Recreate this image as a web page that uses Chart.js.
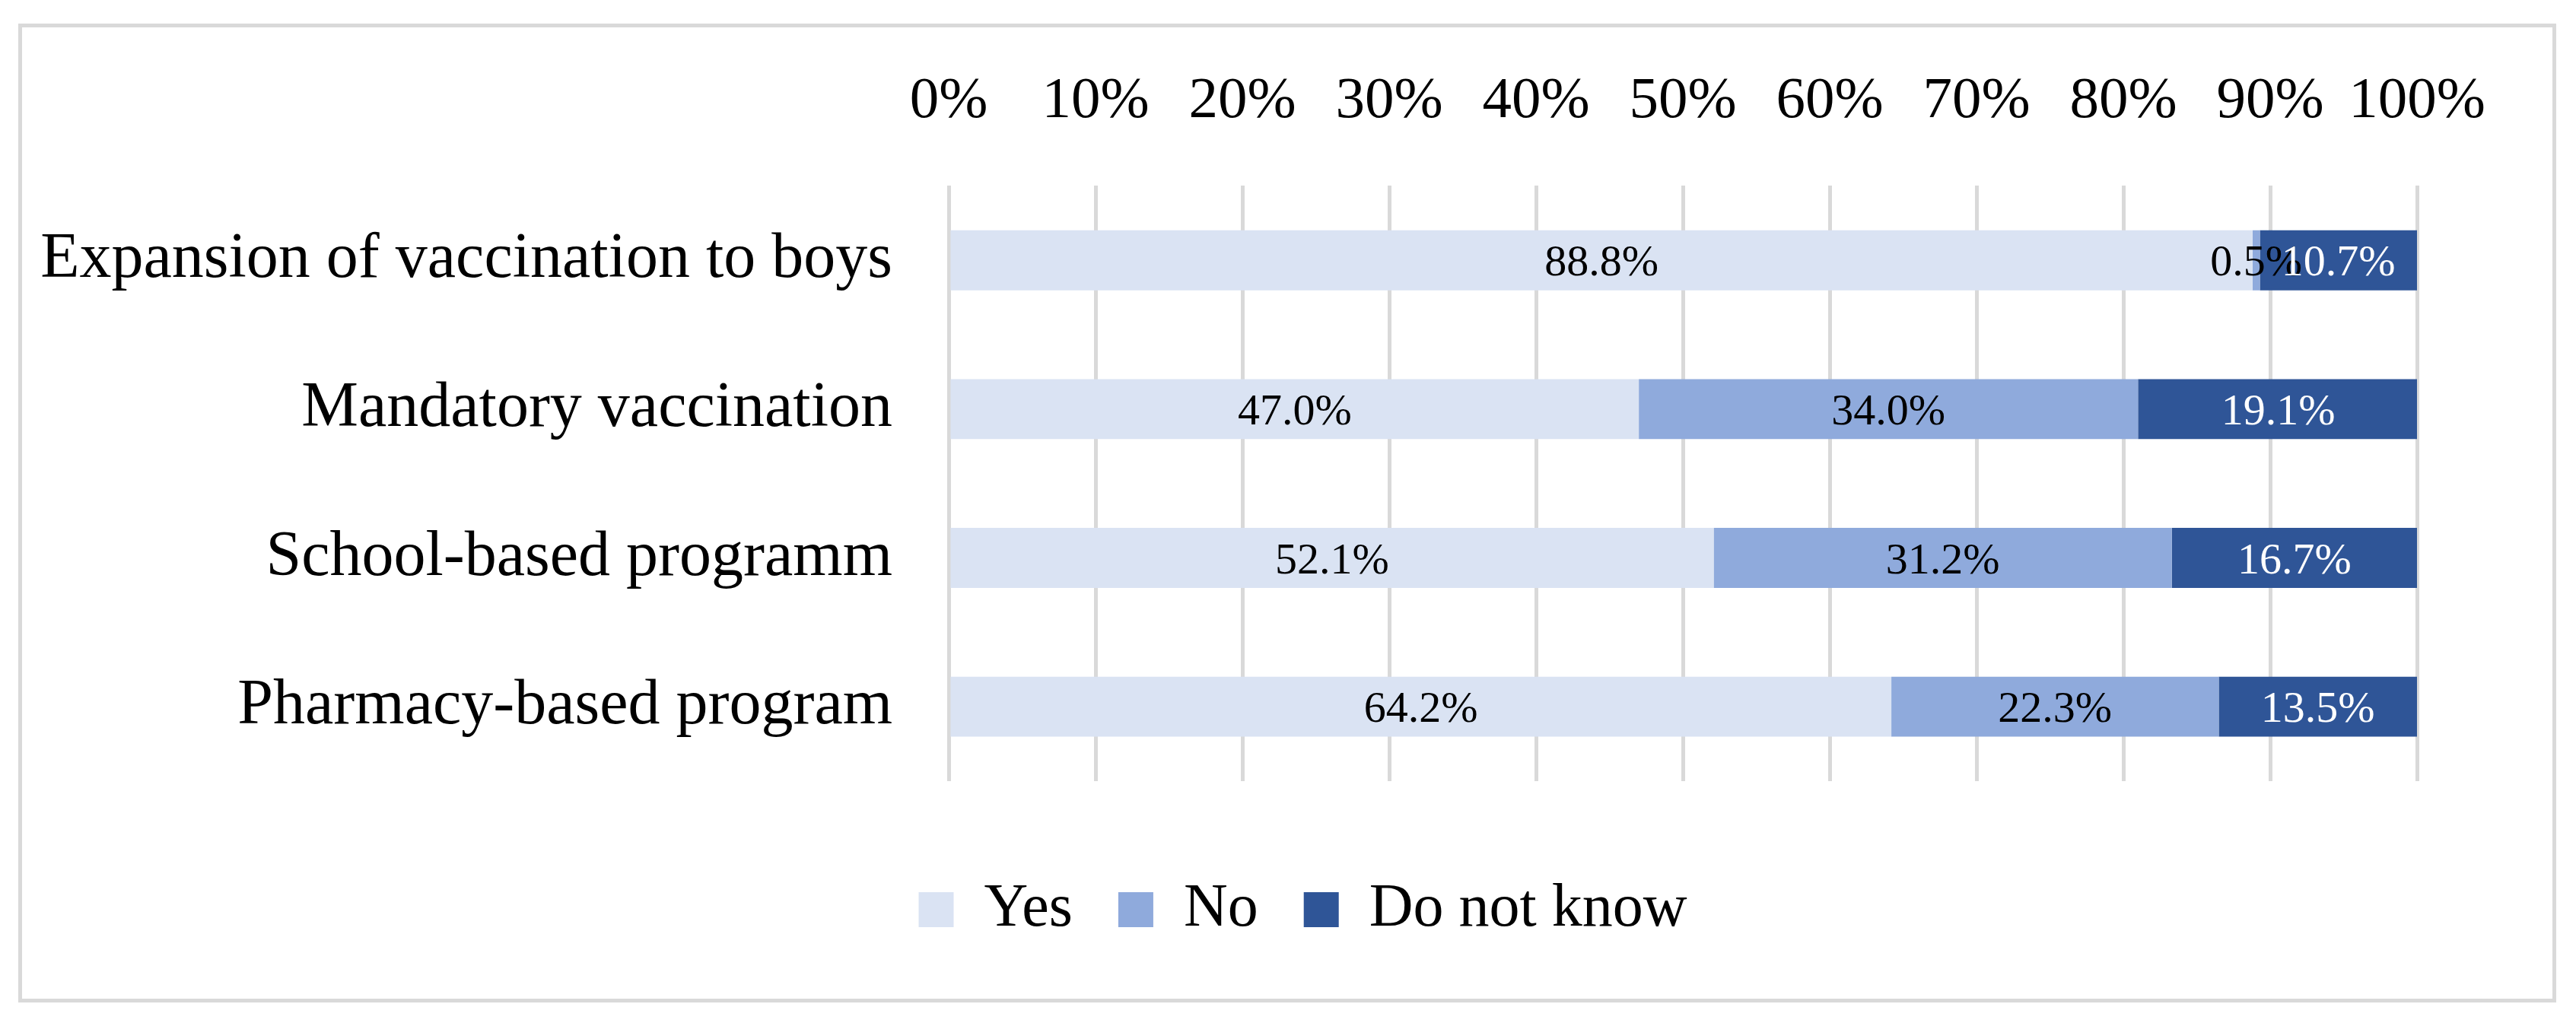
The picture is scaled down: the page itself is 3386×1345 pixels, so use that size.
<!DOCTYPE html>
<html><head><meta charset="utf-8">
<script src="https://cdn.jsdelivr.net/npm/chart.js@4"></script>
<style>
html,body{margin:0;padding:0;background:#fff;}
#frame{position:absolute;left:24px;top:31px;width:3336px;height:1287px;border:5px solid #D9D9D9;box-sizing:border-box;}
#wrap{position:absolute;left:0;top:0;width:3386px;height:1345px;}
</style></head><body>
<div id="frame"></div>
<div id="wrap"><canvas id="c"></canvas></div>
<script>
const categories = ['Expansion of vaccination to boys', 'Mandatory vaccination', 'School-based programm', 'Pharmacy-based program'];
const seriesNames = ['Yes', 'No', 'Do not know'];
const yesValues = [88.8, 47.0, 52.1, 64.2];
const noValues = [0.5, 34.0, 31.2, 22.3];
const dontKnowValues = [10.7, 19.1, 16.7, 13.5];
const tickMin = 0, tickMax = 100, tickStep = 10;

const seriesColors = ['#DAE3F3', '#8FAADC', '#2F5597'];
const labelColors = ['#000000', '#000000', '#FFFFFF'];
const FONT = '"Liberation Serif", "Times New Roman", serif';

const segLabels = {
  id: 'segLabels',
  afterDatasetsDraw(chart) {
    const ctx = chart.ctx;
    ctx.save();
    ctx.font = '58px ' + FONT;
    ctx.textAlign = 'center';
    ctx.textBaseline = 'alphabetic';
    chart.data.datasets.forEach((ds, i) => {
      const meta = chart.getDatasetMeta(i);
      meta.data.forEach((el, j) => {
        const p = el.getProps(['x', 'base', 'y'], true);
        ctx.fillStyle = labelColors[i];
        ctx.fillText(ds.data[j].toFixed(1) + '%', (p.x + p.base) / 2, p.y + 20);
      });
    });
    ctx.restore();
  }
};

// center the legend on the whole framed figure (as in the reference)
const legendShift = {
  id: 'legendShift',
  afterLayout(chart) {
    const lg = chart.legend;
    if (lg) { lg.left += 124; lg.right += 124; }
  }
};

new Chart(document.getElementById('c'), {
  type: 'bar',
  data: {
    labels: categories,
    datasets: [
      { label: seriesNames[0], data: yesValues, backgroundColor: seriesColors[0] },
      { label: seriesNames[1], data: noValues, backgroundColor: seriesColors[1] },
      { label: seriesNames[2], data: dontKnowValues, backgroundColor: seriesColors[2] }
    ]
  },
  options: {
    indexAxis: 'y',
    responsive: true,
    maintainAspectRatio: false,
    animation: false,
    devicePixelRatio: 1,
    categoryPercentage: 1,
    barPercentage: 0.403,
    layout: { padding: { left: 0, right: 209, top: 24, bottom: 99 } },
    scales: {
      x: {
        type: 'linear', position: 'top', stacked: true,
        min: tickMin, max: tickMax,
        ticks: { stepSize: tickStep, callback: v => v + '%', color: '#000', font: { family: FONT, size: 77 }, padding: 64, maxRotation: 0 },
        grid: { color: '#D9D9D9', lineWidth: 5, drawTicks: false },
        border: { display: false }
      },
      y: {
        type: 'category', stacked: true,
        ticks: { color: '#000', font: { family: FONT, size: 84 }, padding: 74 },
        grid: { display: false, drawTicks: false },
        border: { display: false },
        afterFit: s => { s.width = 1247; }
      }
    },
    plugins: {
      legend: {
        position: 'bottom',
        title: { display: true, text: ' ', font: { size: 10 }, padding: { top: 57, bottom: 0 } },
        labels: { boxWidth: 46, boxHeight: 46, color: '#000', font: { family: FONT, size: 80 }, padding: 60 }
      },
      tooltip: { enabled: false }
    }
  },
  plugins: [segLabels, legendShift]
});
</script>
</body></html>
